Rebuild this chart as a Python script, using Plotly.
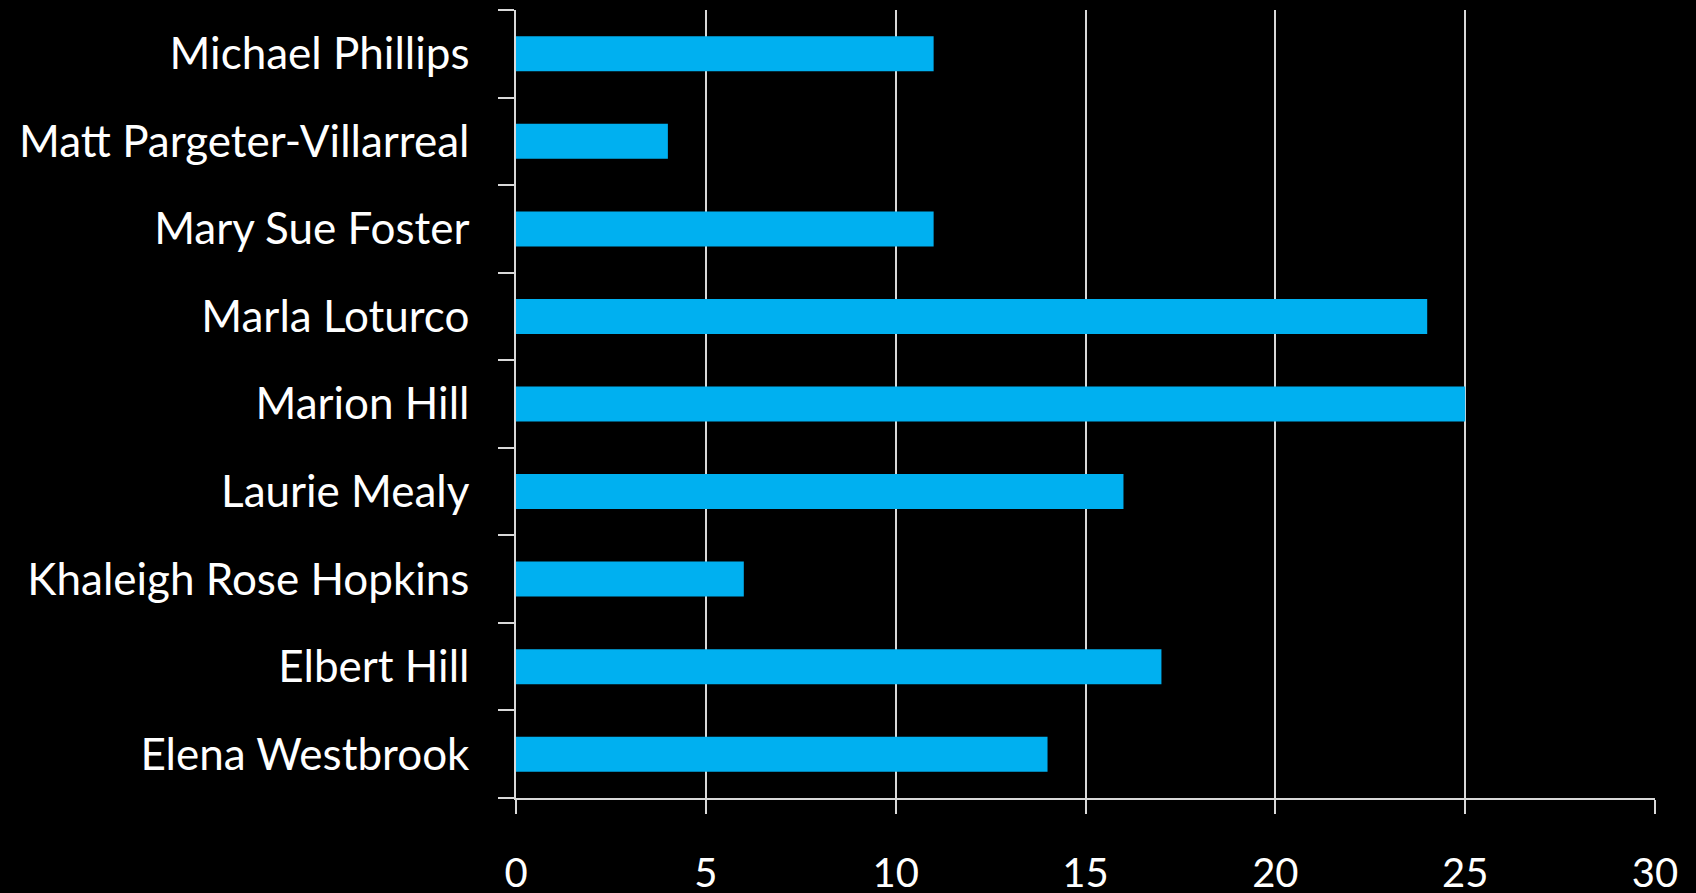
import plotly.graph_objects as go

names = ["Elena Westbrook", "Elbert Hill", "Khaleigh Rose Hopkins", "Laurie Mealy",
         "Marion Hill", "Marla Loturco", "Mary Sue Foster",
         "Matt Pargeter-Villarreal", "Michael Phillips"]
values = [14, 17, 6, 16, 25, 24, 11, 4, 11]
x_ticks = [0, 5, 10, 15, 20, 25, 30]

axis_color = "#d9d9d9"
font_family = "Lato, 'Open Sans', sans-serif"

fig = go.Figure(go.Bar(
    y=names, x=values, orientation="h",
    marker=dict(color="#00B0F0", line=dict(width=0)),
))

fig.update_layout(
    width=1696, height=893,
    paper_bgcolor="black", plot_bgcolor="black",
    margin=dict(l=516, r=41, t=10, b=95),
    bargap=0.6,
    showlegend=False,
    font=dict(family=font_family, color="white", size=40),
)
fig.update_xaxes(
    range=[0, 30], tickvals=x_ticks, ticktext=[str(v) for v in x_ticks],
    showgrid=True, gridcolor=axis_color, gridwidth=1.5,
    showline=True, linecolor=axis_color, linewidth=1.5,
    ticks="outside", ticklen=14, tickcolor=axis_color, tickwidth=1.5,
    zeroline=False, ticklabelstandoff=25, automargin=False,
    tickfont=dict(size=40, color="white", family=font_family),
)
fig.update_yaxes(
    categoryorder="array", categoryarray=names,
    range=[-0.5, 8.5],
    showline=True, linecolor=axis_color, linewidth=1.5,
    ticks="outside", ticklen=16, tickcolor=axis_color, tickwidth=1.5,
    tickson="boundaries", showgrid=False, zeroline=False,
    ticklabelstandoff=36, automargin=False,
    tickfont=dict(size=44, color="white", family=font_family),
)

fig.write_html(
    "out.html",
    config={"displayModeBar": False},
    post_script="document.body.style.margin='0';document.body.style.background='black';",
)
